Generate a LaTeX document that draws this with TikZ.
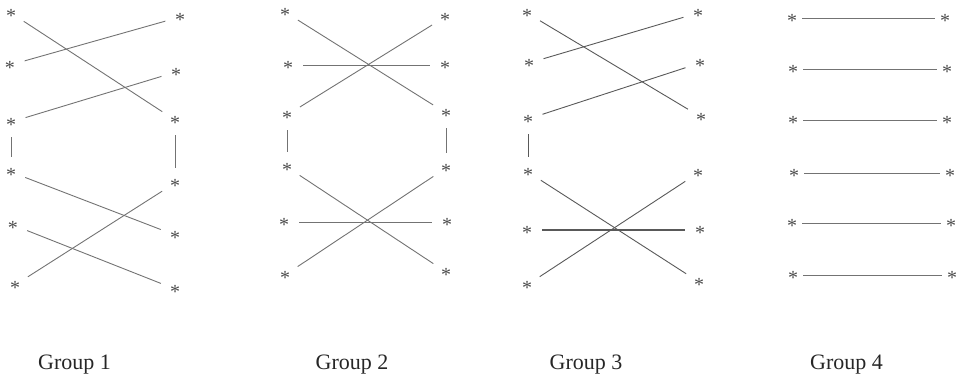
\documentclass[tikz,border=0pt]{standalone}
\usepackage{fontspec}
\setmainfont{Liberation Serif}
\definecolor{linec}{gray}{0.45}
\definecolor{darkc}{gray}{0.35}
\definecolor{starc}{gray}{0.30}
\newcommand\skstar{\raisebox{-0.47em}[0.2em][0.2em]{*}}
\tikzset{
  st/.style={circle, inner sep=0pt, minimum size=#1, text=starc,
    font=\fontsize{20}{20}\selectfont},
  st/.default=30pt,
  cn/.style={draw=linec, line width=0.9pt},
  cnd/.style={draw=darkc, line width=0.9pt},
  cnthick/.style={draw=darkc, line width=1.8pt},
  lab/.style={anchor=base, font=\fontsize{22}{22}\selectfont, text=black!85}
}
\begin{document}
\begin{tikzpicture}[x=1pt,y=-1pt]
\useasboundingbox (0,0) rectangle (956,379);
% ---------- Group 1
\foreach \n/\x/\y in {1/11/13,2/10/65,3/11/122,4/11/172,5/13/225,6/15/285}
  \node[st] (a\n) at (\x,\y) {\skstar};
\foreach \n/\x/\y in {1/180/17,2/176/72,3/175/120,4/175/183,5/175/235,6/175/289}
  \node[st] (b\n) at (\x,\y) {\skstar};
\draw[cn] (a1) -- (b3);
\draw[cn] (a2) -- (b1);
\draw[cn] (a3) -- (b2);
\draw[cn] (a3) -- (a4);
\draw[cn] (b3) -- (b4);
\draw[cn] (a4) -- (b5);
\draw[cn] (a5) -- (b6);
\draw[cn] (a6) -- (b4);
% ---------- Group 2
\foreach \n/\x/\y in {1/285/12,2/288/65,3/287/115,4/287/167,5/284/222,6/285/275}
  \node[st] (c\n) at (\x,\y) {\skstar};
\foreach \n/\x/\y in {1/445/17,2/445/65,3/446/113,4/446/168,5/447/222,6/446/272}
  \node[st] (d\n) at (\x,\y) {\skstar};
\draw[cn] (c1) -- (d3);
\draw[cn] (c2) -- (d2);
\draw[cn] (c3) -- (d1);
\draw[cn] (c3) -- (c4);
\draw[cn] (d3) -- (d4);
\draw[cn] (c4) -- (d6);
\draw[cn] (c5) -- (d5);
\draw[cn] (c6) -- (d4);
% ---------- Group 3
\foreach \n/\x/\y in {1/527/13,2/529/63,3/528/119,4/528/172,5/527/230,6/527/285}
  \node[st] (e\n) at (\x,\y) {\skstar};
\foreach \n/\x/\y in {1/698/13,2/700/63,3/701/117,4/698/173,5/700/230,6/699/282}
  \node[st] (f\n) at (\x,\y) {\skstar};
\draw[cnd] (e1) -- (f3);
\draw[cnd] (e2) -- (f1);
\draw[cnd] (e3) -- (f2);
\draw[cnd] (e3) -- (e4);
\draw[cnd] (e4) -- (f6);
\draw[cnthick] (e5) -- (f5);
\draw[cnd] (e6) -- (f4);
% ---------- Group 4
\foreach \n/\x/\y in {1/792/18,2/793/69,3/793/120,4/794/173,5/792/223,6/793/275}
  \node[st=20pt] (g\n) at (\x,\y) {\skstar};
\foreach \n/\x/\y in {1/945/18,2/947/69,3/947/120,4/950/173,5/951/223,6/952/275}
  \node[st=20pt] (h\n) at (\x,\y) {\skstar};
\foreach \n in {1,...,6}
  \draw[cn] (g\n) -- (h\n);
% ---------- labels
\node[lab] (l1) at (74.5,370) {Group 1};
\node[lab] (l2) at (352,370) {Group 2};
\node[lab] (l3) at (586,370) {Group 3};
\node[lab] (l4) at (846.5,370) {Group 4};
\end{tikzpicture}
\end{document}
